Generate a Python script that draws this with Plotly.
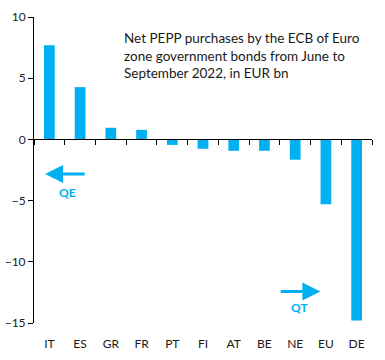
import plotly.graph_objects as go

countries = ["IT", "ES", "GR", "FR", "PT", "FI", "AT", "BE", "NE", "EU", "DE"]
purchases = [7.7, 4.27, 0.95, 0.78, -0.45, -0.77, -0.93, -0.93, -1.66, -5.3, -14.8]
y_ticks = [10, 5, 0, -5, -10, -15]

BLUE = "#00B0F0"
FONT = "Lato"
TXT = "#1a1a1a"

fig = go.Figure()
fig.add_trace(go.Bar(x=countries, y=purchases, marker_color=BLUE,
                     marker_line_width=0, xaxis="x", yaxis="y", showlegend=False))
# invisible trace to drive the zero-line category axis
fig.add_trace(go.Scatter(x=countries, y=[0]*len(countries), mode="none",
                         xaxis="x2", yaxis="y", showlegend=False, hoverinfo="skip"))

fig.update_layout(
    width=385, height=360,
    margin=dict(l=34, r=13, t=17, b=37, autoexpand=False),
    plot_bgcolor="white", paper_bgcolor="white",
    bargap=0.65,
    font=dict(family=FONT, size=12, color=TXT),
    xaxis=dict(type="category", showline=False, ticks="", showgrid=False,
               zeroline=False, tickfont=dict(size=12, color=TXT),
               ticklabelstandoff=12, range=[-0.5, 10.5], automargin=False),
    xaxis2=dict(type="category", overlaying="x", matches="x", anchor="free",
                position=0.6, side="bottom", showline=True, linecolor="black",
                linewidth=1, ticks="outside", ticklen=5, tickcolor="black",
                tickson="boundaries", showticklabels=False, showgrid=False,
                zeroline=False, automargin=False),
    yaxis=dict(range=[-15, 10], tickvals=y_ticks, showline=True,
               linecolor="black", linewidth=1, ticks="outside", ticklen=5,
               tickcolor="black", showgrid=False, zeroline=False,
               tickfont=dict(size=12, color=TXT), automargin=False),
)

fig.add_annotation(x=0.26, y=0.965, xref="paper", yref="paper",
                   xanchor="left", yanchor="top", align="left", showarrow=False,
                   text="Net PEPP purchases by the ECB of Euro<br>zone government bonds from June to<br>September 2022, in EUR bn",
                   font=dict(family=FONT, size=13.5, color=TXT))

# QE arrow
fig.add_annotation(x=-0.14, y=-2.83, ax=1.2, ay=-2.83, xref="x", yref="y",
                   axref="x", ayref="y", showarrow=True, arrowhead=2,
                   arrowsize=1.2, arrowwidth=3, arrowcolor=BLUE, text="")
fig.add_annotation(x=0.6, y=-4.3, xref="x", yref="y", showarrow=False,
                   text="<b>QE</b>", font=dict(family=FONT, size=12, color=BLUE))
# QT arrow
fig.add_annotation(x=8.82, y=-12.43, ax=7.48, ay=-12.43, xref="x", yref="y",
                   axref="x", ayref="y", showarrow=True, arrowhead=2,
                   arrowsize=1.2, arrowwidth=3, arrowcolor=BLUE, text="")
fig.add_annotation(x=8.15, y=-13.7, xref="x", yref="y", showarrow=False,
                   text="<b>QT</b>", font=dict(family=FONT, size=12, color=BLUE))

fig.write_html("out.html", config={"displayModeBar": False},
               post_script="document.body.style.margin='0';")
